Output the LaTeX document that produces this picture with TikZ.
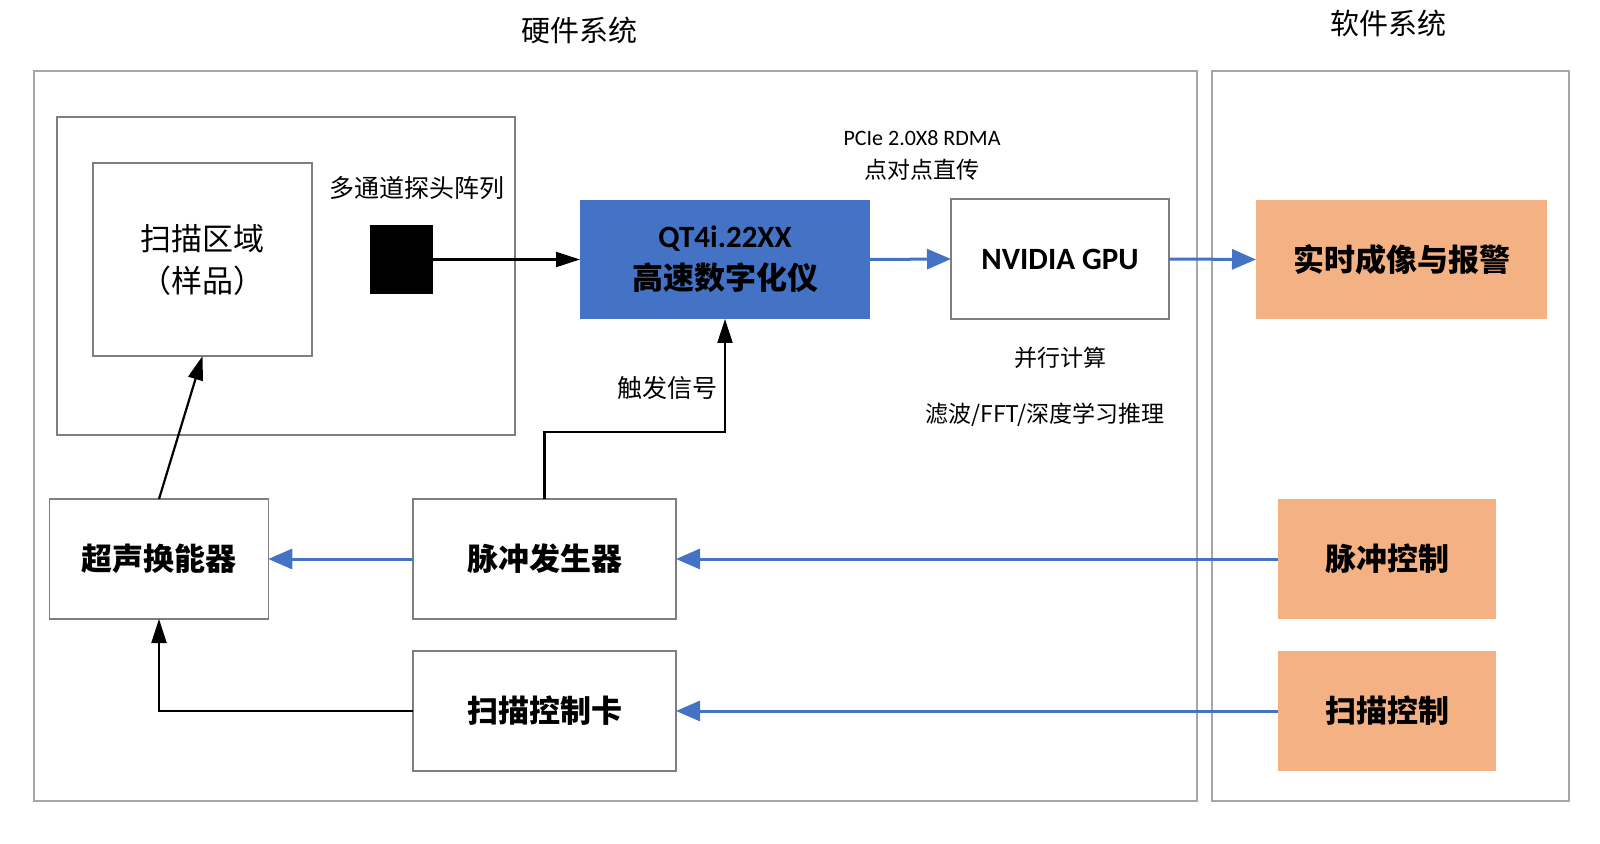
\documentclass[tikz,border=0pt]{standalone}
\usepackage{fontspec}
\setmainfont{Carlito}
\newfontfamily\cjk{Noto Sans CJK SC}
\usetikzlibrary{arrows.meta}
\definecolor{azul}{HTML}{4472C4}
\definecolor{naranja}{HTML}{F4B183}
\definecolor{marco}{HTML}{A6A6A6}
\definecolor{borde}{HTML}{7F7F7F}
\begin{document}
\begin{tikzpicture}[x=0.5pt, y=-0.5pt,
    caja/.style={draw=borde, line width=0.6pt, inner sep=0pt, outer sep=0pt, align=center,
                 font=\cjk\bfseries\fontsize{15.5}{21}\selectfont},
    cajanaranja/.style={caja, draw=none, fill=naranja},
    etiqueta/.style={inner sep=0pt, font=\cjk\fontsize{11.5}{14}\selectfont},
    flechanegra/.style={line width=1.1pt, -{Triangle[length=12pt, width=7.5pt]}},
    flechaazul/.style={azul, line width=1.5pt, -{Triangle[length=12pt, width=10pt]}}]
    \useasboundingbox (0,0) rectangle (1600,844);

    % 1. Marcos de los dos sistemas
    \draw[marco, line width=0.7pt] (34,71) rectangle (1197,801);
    \draw[marco, line width=0.7pt] (1212,71) rectangle (1569,801);
    \node[etiqueta, font=\cjk\fontsize{14.5}{17}\selectfont] (hwtitle) at (579,30) {硬件系统};
    \node[etiqueta, font=\cjk\fontsize{14.5}{17}\selectfont] (swtitle) at (1388,23) {软件系统};

    % 2. Zona de barrido y sonda
    \draw[borde, line width=0.6pt] (57,117) rectangle (515,435);
    \node[caja, minimum width=109.5pt, minimum height=96.5pt, font=\cjk\fontsize{15.5}{21}\selectfont]
        (scanbox) at (202.5,259.5) {扫描区域\\（样品）};
    \node[etiqueta, font=\cjk\fontsize{12.5}{15}\selectfont] (probelabel) at (417,188) {多通道探头阵列};
    \node[fill=black, inner sep=0pt, outer sep=0pt, minimum width=31.5pt, minimum height=34.5pt]
        (probe) at (401.5,259.5) {};

    % 3. Cadena de adquisicion
    \node[caja, draw=none, fill=azul, minimum width=145pt, minimum height=59.5pt]
        (qt) at (725,259.5) {{\fontspec{Carlito}\bfseries QT4i.22XX}\\高速数字化仪};
    \node[caja, minimum width=109pt, minimum height=60pt, font=\bfseries\fontsize{15.5}{19}\selectfont]
        (gpu) at (1060,259) {NVIDIA GPU};
    \node[cajanaranja, minimum width=145.5pt, minimum height=59.5pt] (imaging) at (1401.5,259.5) {实时成像与报警};
    \node[etiqueta, font=\fontsize{11}{13}\selectfont] (pcie) at (922,138) {PCIe 2.0X8 RDMA};
    \node[etiqueta] (p2p) at (922,170) {点对点直传};
    \node[etiqueta] (parallel) at (1060,358) {并行计算};
    \node[etiqueta] (algo) at (1045,415) {滤波/FFT/深度学习推理};

    % 4. Parte inferior: excitacion y control
    \node[caja, minimum width=109.25pt, minimum height=60pt] (transducer) at (159,559) {超声换能器};
    \node[caja, minimum width=131.5pt, minimum height=60pt] (pulser) at (544.5,559) {脉冲发生器};
    \node[caja, minimum width=131.5pt, minimum height=60pt] (scancard) at (544.5,711) {扫描控制卡};
    \node[cajanaranja, minimum width=109pt, minimum height=60pt] (pulsectl) at (1387,559) {脉冲控制};
    \node[cajanaranja, minimum width=109pt, minimum height=60pt] (scanctl) at (1387,711) {扫描控制};
    \node[etiqueta, font=\cjk\fontsize{12.5}{15}\selectfont] (trig) at (667,388) {触发信号};
    \coordinate (trigknee) at (544.5,432);

    % 5. Conexiones
    \draw[flechanegra] (probe.east) -- (qt.west);
    \draw[flechanegra] (transducer.north) -- (scanbox.south);
    \draw[flechanegra] (pulser.north) -- (trigknee) -| (qt.south);
    \draw[flechanegra] (scancard.west) -| (transducer.south);
    \draw[flechaazul] (qt.east) -- (gpu.west);
    \draw[flechaazul] (gpu.east) -- (imaging.west);
    \draw[flechaazul] (pulser.west) -- (transducer.east);
    \draw[flechaazul] (pulsectl.west) -- (pulser.east);
    \draw[flechaazul] (scanctl.west) -- (scancard.east);
\end{tikzpicture}
\end{document}
